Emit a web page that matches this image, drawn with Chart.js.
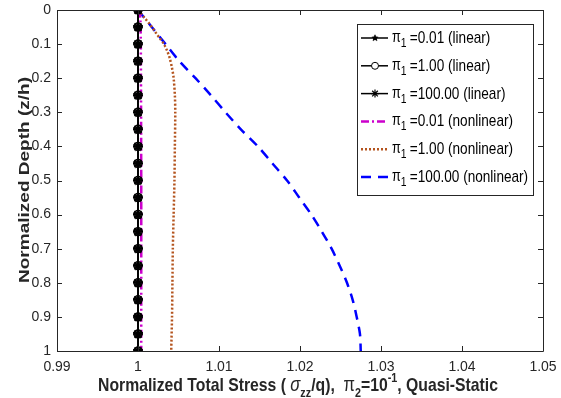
<!DOCTYPE html>
<html>
<head>
<meta charset="utf-8">
<script src="https://cdn.jsdelivr.net/npm/chart.js@4.4.1/dist/chart.umd.min.js"></script>
<style>
  html, body { margin: 0; padding: 0; background: #fff; }
  #wrap { width: 561px; height: 398px; }
</style>
</head>
<body>
<div id="wrap"><canvas id="c" width="561" height="398"></canvas></div>
<script>
// tick labels
const xTickLabels = ['0.99', '1', '1.01', '1.02', '1.03', '1.04', '1.05'];
const yTickLabels = ['0', '0.1', '0.2', '0.3', '0.4', '0.5', '0.6', '0.7', '0.8', '0.9', '1'];

// linear solutions (all three pi1 values sit on sigma/q = 1)
const linearDepth = [0, 0.05, 0.1, 0.15, 0.2, 0.25, 0.3, 0.35, 0.4, 0.45, 0.5,
                     0.55, 0.6, 0.65, 0.7, 0.75, 0.8, 0.85, 0.9, 0.95, 1];
const linearStress = [1, 1, 1, 1, 1, 1, 1, 1, 1, 1, 1, 1, 1, 1, 1, 1, 1, 1, 1, 1, 1];

// nonlinear, pi1 = 0.01
const nl001Depth  = [0, 0.01, 0.03, 0.1, 0.5, 1];
const nl001Stress = [1, 1.0002, 1.0003, 1.00035, 1.0004, 1.0004];

// nonlinear, pi1 = 1.00
const nl1Depth  = [0, 0.02, 0.04, 0.06, 0.08, 0.1, 0.12, 0.14, 0.17, 0.2, 0.25, 0.3, 0.4, 0.5, 0.6, 0.7, 0.8, 0.9, 1];
const nl1Stress = [1, 1.0007, 1.0014, 1.0020, 1.0026, 1.0032, 1.0036, 1.0039, 1.0042, 1.0044, 1.00455, 1.0046,
                   1.00455, 1.0045, 1.0044, 1.0043, 1.00425, 1.0042, 1.0041];

// nonlinear, pi1 = 100.00
const nl100Depth  = [0, 0.05, 0.1, 0.15, 0.2, 0.25, 0.3, 0.35, 0.4, 0.45, 0.5,
                     0.55, 0.6, 0.65, 0.7, 0.75, 0.8, 0.85, 0.9, 0.95, 1];
const nl100Stress = [1, 1.0017, 1.0034, 1.0051, 1.0071, 1.0090, 1.0108, 1.0127, 1.0148, 1.0166, 1.0184,
                     1.0199, 1.0214, 1.0227, 1.0239, 1.0249, 1.0258, 1.0265, 1.0270, 1.0274, 1.0275];

const legendValues = ['0.01', '1.00', '100.00', '0.01', '1.00', '100.00'];
const legendKinds = ['linear', 'linear', 'linear', 'nonlinear', 'nonlinear', 'nonlinear'];

const pts = (xs, ys) => xs.map((x, i) => ({ x: x, y: ys[i] }));

// five point star marker
function makeStar(r) {
  const cv = document.createElement('canvas');
  cv.width = cv.height = r * 2 + 2;
  const g = cv.getContext('2d');
  g.beginPath();
  for (let i = 0; i < 10; i++) {
    const a = -Math.PI / 2 + i * Math.PI / 5;
    const rr = i % 2 ? r * 0.45 : r;
    g.lineTo(r + 1 + rr * Math.cos(a), r + 1 + rr * Math.sin(a));
  }
  g.closePath();
  g.fillStyle = '#000';
  g.fill();
  g.strokeStyle = '#000';
  g.lineWidth = 1;
  g.stroke();
  return cv;
}
const starImg = makeStar(5);

const FONT = '"Liberation Sans", Arial, sans-serif';
const TXT = '#262626';
const SQX = 0.8; // the picture's text is squeezed sideways

const frame = {
  id: 'frame',
  afterDatasetsDraw(chart) {
    const { ctx, chartArea: a, scales: { x, y } } = chart;
    ctx.save();
    ctx.strokeStyle = TXT;
    ctx.lineWidth = 1;
    ctx.beginPath();
    ctx.rect(Math.round(a.left) + 0.5, Math.round(a.top) + 0.5, Math.round(a.right - a.left), Math.round(a.bottom - a.top));
    ctx.stroke();
    ctx.beginPath();
    xTickLabels.forEach(t => {
      const px = Math.round(x.getPixelForValue(parseFloat(t))) + 0.5;
      ctx.moveTo(px, a.bottom); ctx.lineTo(px, a.bottom - 5);
      ctx.moveTo(px, a.top); ctx.lineTo(px, a.top + 5);
    });
    yTickLabels.forEach(t => {
      const py = Math.round(y.getPixelForValue(parseFloat(t))) + 0.5;
      ctx.moveTo(a.left, py); ctx.lineTo(a.left + 5, py);
      ctx.moveTo(a.right, py); ctx.lineTo(a.right - 5, py);
    });
    ctx.stroke();

    // x axis title with sub/superscripts
    const parts = [
      ['Normalized Total Stress ( ', 'bold 19px', 0],
      ['\u03c3', 'italic 20px', 0],
      ['zz', 'bold 13px', 6],
      ['/q),  ', 'bold 19px', 0],
      ['\u03c0', '20px', 0],
      ['2', 'bold 13px', 6],
      ['=10', 'bold 19px', 0],
      ['-1', 'bold 13px', -9],
      [', Quasi-Static', 'bold 19px', 0]
    ];
    let w = 0;
    parts.forEach(p => { ctx.font = p[1] + ' ' + FONT; w += ctx.measureText(p[0]).width; });
    const k = 400 / w;
    ctx.save();
    ctx.translate(98, 391);
    ctx.scale(k, 1);
    let cx = 0;
    ctx.fillStyle = TXT;
    ctx.textBaseline = 'alphabetic';
    ctx.textAlign = 'left';
    parts.forEach(p => {
      ctx.font = p[1] + ' ' + FONT;
      ctx.fillText(p[0], cx, p[2]);
      cx += ctx.measureText(p[0]).width;
    });
    ctx.restore();

    // y axis title, stretched along its length like the picture
    ctx.save();
    ctx.translate(29, 180);
    ctx.rotate(-Math.PI / 2);
    ctx.font = 'bold 15px ' + FONT;
    const yt = 'Normalized Depth (z/h)';
    ctx.scale(206 / ctx.measureText(yt).width, 1);
    ctx.fillStyle = TXT;
    ctx.textAlign = 'center';
    ctx.fillText(yt, 0, 0);
    ctx.restore();

    // legend
    const lx = 357, ly = 24, lw = 176, lh = 171;
    ctx.fillStyle = '#fff';
    ctx.fillRect(lx, ly, lw, lh);
    ctx.strokeStyle = TXT;
    ctx.strokeRect(lx + 0.5, ly + 0.5, lw, lh);
    chart.data.datasets.forEach((ds, i) => {
      const ry = 38 + i * 27.8;
      ctx.save();
      ctx.strokeStyle = ds.borderColor;
      ctx.lineWidth = ds.borderWidth;
      ctx.setLineDash(ds.borderDash || []);
      ctx.beginPath();
      ctx.moveTo(361, ry); ctx.lineTo(388, ry);
      ctx.stroke();
      ctx.setLineDash([]);
      if (i === 0) ctx.drawImage(starImg, 375 - 4, ry - 4, 8, 8);
      if (i === 1) { ctx.lineWidth = 1; ctx.beginPath(); ctx.arc(375, ry, 3.5, 0, Math.PI * 2); ctx.fillStyle = '#fff'; ctx.fill(); ctx.stroke(); }
      if (i === 2) {
        ctx.lineWidth = 1.2; ctx.beginPath();
        for (let m = 0; m < 4; m++) { const an = m * Math.PI / 4; ctx.moveTo(375 - 4 * Math.cos(an), ry - 4 * Math.sin(an)); ctx.lineTo(375 + 4 * Math.cos(an), ry + 4 * Math.sin(an)); }
        ctx.stroke();
      }
      ctx.restore();
      ctx.save();
      ctx.translate(392, ry);
      ctx.scale(SQX, 1);
      ctx.fillStyle = '#000';
      ctx.font = '16px ' + FONT;
      ctx.fillText('\u03c0', 0, 4);
      let tx = ctx.measureText('\u03c0').width;
      ctx.font = '13px ' + FONT;
      ctx.fillText('1', tx, 9);
      tx += ctx.measureText('1').width + 4;
      ctx.font = '17px ' + FONT;
      ctx.fillText('=' + legendValues[i] + ' (' + legendKinds[i] + ')', tx, 5);
      ctx.restore();
    });
    ctx.restore();
  }
};

new Chart(document.getElementById('c'), {
  type: 'scatter',
  data: {
    datasets: [
      { label: 'linear 0.01', data: pts(linearStress, linearDepth), showLine: true, borderColor: '#000', borderWidth: 1.5,
        pointStyle: starImg, pointRadius: 5, pointBackgroundColor: '#000', pointBorderColor: '#000' },
      { label: 'linear 1.00', data: pts(linearStress, linearDepth), showLine: true, borderColor: '#000', borderWidth: 1.5,
        pointStyle: 'circle', pointRadius: 4, pointBorderWidth: 1.5, pointBackgroundColor: 'rgba(0,0,0,0)', pointBorderColor: '#000' },
      { label: 'linear 100.00', data: pts(linearStress, linearDepth), showLine: true, borderColor: '#000', borderWidth: 1.5,
        pointStyle: 'star', pointRadius: 5, pointBorderWidth: 1.5, pointBorderColor: '#000' },
      { label: 'nonlinear 0.01', data: pts(nl001Stress, nl001Depth), showLine: true, borderColor: '#CC00CC', borderWidth: 2.5,
        borderDash: [8, 3, 2, 3], pointRadius: 0, tension: 0.2 },
      { label: 'nonlinear 1.00', data: pts(nl1Stress, nl1Depth), showLine: true, borderColor: '#B4541E', borderWidth: 2.5,
        borderDash: [2, 2], pointRadius: 0, tension: 0.3 },
      { label: 'nonlinear 100.00', data: pts(nl100Stress, nl100Depth), showLine: true, borderColor: '#0000FF', borderWidth: 2.5,
        borderDash: [10, 7], pointRadius: 0, tension: 0.3 }
    ]
  },
  options: {
    responsive: false,
    animation: false,
    layout: { padding: { top: 10, right: 18, left: 0, bottom: 0 } },
    plugins: { legend: { display: false }, tooltip: { enabled: false } },
    scales: {
      x: {
        type: 'linear', min: 0.99, max: 1.05,
        afterBuildTicks: s => { s.ticks = xTickLabels.map(t => ({ value: parseFloat(t) })); },
        afterFit: s => { s.height = 47; },
        grid: { display: false },
        border: { display: false },
        ticks: {
          color: TXT, font: { family: FONT, size: 14 }, padding: 0, maxRotation: 0,
          callback: (v, i) => xTickLabels[i]
        }
      },
      y: {
        type: 'linear', min: 0, max: 1, reverse: true,
        afterBuildTicks: s => { s.ticks = yTickLabels.map(t => ({ value: parseFloat(t) })); },
        afterFit: s => { s.width = 57; },
        grid: { display: false },
        border: { display: false },
        ticks: {
          color: TXT, font: { family: FONT, size: 14 }, padding: -2,
          callback: (v, i) => yTickLabels[i]
        }
      }
    }
  },
  plugins: [frame]
});
</script>
</body>
</html>
